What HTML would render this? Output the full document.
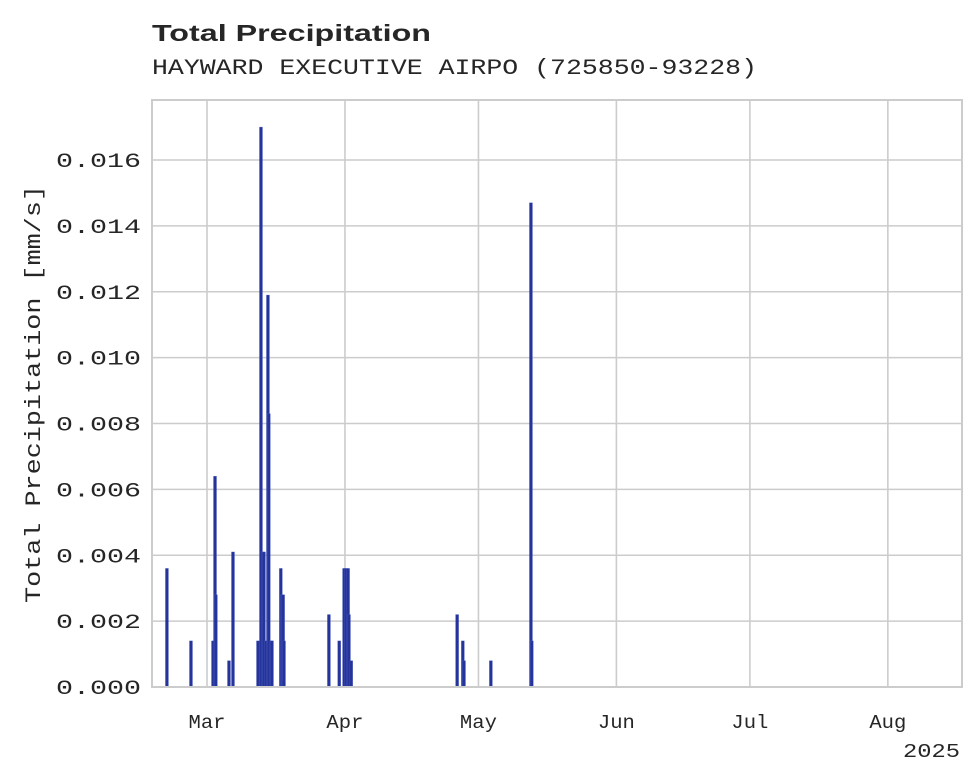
<!DOCTYPE html>
<html><head><meta charset="utf-8"><style>
html,body{margin:0;padding:0;background:#fff;}
svg{display:block;}
text{fill:#262626;}
</style></head><body>
<svg id="chart" width="980" height="783" xmlns="http://www.w3.org/2000/svg">
<text x="152" y="41" font-family="Liberation Sans, sans-serif" font-weight="bold" font-size="23" textLength="279" lengthAdjust="spacingAndGlyphs">Total Precipitation</text>
<text x="152" y="74" font-family="Liberation Mono, monospace" font-size="22" textLength="605" lengthAdjust="spacingAndGlyphs">HAYWARD EXECUTIVE AIRPO (725850-93228)</text>
<g id="grid"></g>
<g id="bars"></g>
<g id="axes"></g>
<rect x="152" y="100" width="810" height="587" fill="none" stroke="#cccccc" stroke-width="2"/>
<text transform="translate(40,394) rotate(-90)" text-anchor="middle" font-family="Liberation Mono, monospace" font-size="22" textLength="418" lengthAdjust="spacingAndGlyphs">Total Precipitation [mm/s]</text>
<text x="960" y="757" text-anchor="end" font-family="Liberation Mono, monospace" font-size="19" textLength="57" lengthAdjust="spacingAndGlyphs">2025</text>
</svg>
<script>
// days since 2025-03-01 00:00 (fractional) and precipitation values
const dayOffsets = [-9.0,-3.6,1.35,1.8,2.0,4.94,5.84,11.46,12.13,12.58,12.8,13.26,13.7,13.9,14.4,14.6,16.6,16.85,17.1,17.3,27.4,29.7,30.8,31.2,31.7,31.9,32.4,56.2,57.5,57.75,63.8,72.8,73.0];
const values = [0.0036,0.0014,0.0014,0.0064,0.0028,0.0008,0.0041,0.0014,0.0170,0.0041,0.0041,0.0014,0.0119,0.0083,0.0014,0.0014,0.0036,0.0028,0.0028,0.0014,0.0022,0.0014,0.0036,0.0036,0.0036,0.0022,0.0008,0.0022,0.0014,0.0008,0.0008,0.0147,0.0014];
const yTicks = [0,0.002,0.004,0.006,0.008,0.010,0.012,0.014,0.016];
const yTickLabels = ["0.000","0.002","0.004","0.006","0.008","0.010","0.012","0.014","0.016"];
const monthLabels = ["Mar","Apr","May","Jun","Jul","Aug"];
const monthDays = [0,31,61,92,122,153];

const NS="http://www.w3.org/2000/svg";
const X0=152,X1=962,Y0=687,Y1=100;
function xs(d){return 207+d*4.45;}
function ys(v){return Y0-v/0.016*(687-160);}
function mk(tag,attrs,parent){const e=document.createElementNS(NS,tag);for(const k in attrs)e.setAttribute(k,attrs[k]);parent.appendChild(e);return e;}
const grid=document.getElementById('grid'),bars=document.getElementById('bars'),axes=document.getElementById('axes');
yTicks.forEach((t,i)=>{
  const y=ys(t);
  const l=mk('line',{x1:X0,x2:X1,y1:y,y2:y,stroke:'#cccccc','stroke-width':1.6},grid);
  
  
  const tx=mk('text',{x:56,y:y+7,'font-family':'Liberation Mono, monospace','font-size':20,textLength:85,lengthAdjust:'spacingAndGlyphs'},axes);
  tx.textContent=yTickLabels[i];
  
  
});
monthDays.forEach((d,i)=>{
  const x=xs(d);
  const l=mk('line',{x1:x,x2:x,y1:Y1,y2:Y0,stroke:'#cccccc','stroke-width':1.6},grid);
  
  
  const tx=mk('text',{x:x-18.5,y:728,'font-family':'Liberation Mono, monospace','font-size':19,textLength:37,lengthAdjust:'spacingAndGlyphs'},axes);
  tx.textContent=monthLabels[i];
  
  
});
dayOffsets.forEach((d,i)=>{
  const x=xs(d), y=ys(values[i]);
  const r=mk('rect',{x:x-1.5,y:y,width:3,height:Y0-y,fill:'#25349a',stroke:'#5060c0','stroke-width':0.3},bars);
  
  
});
</script>
</body></html>
